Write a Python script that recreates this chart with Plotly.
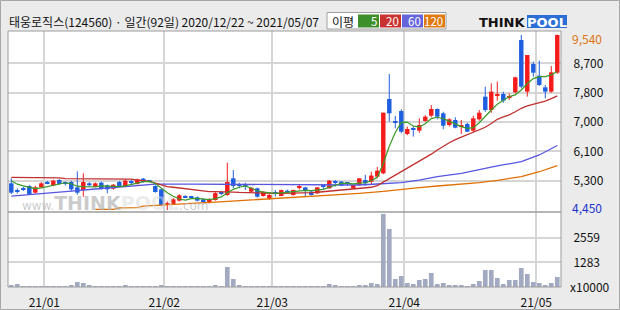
import plotly.graph_objects as go
import pandas as pd

# ---------------- data ----------------
title_text = "태웅로직스(124560) · 일간(92일) 2020/12/22 ~ 2021/05/07"
holidays = ["2020-12-25", "2020-12-31", "2021-01-01", "2021-02-11",
            "2021-02-12", "2021-03-01", "2021-05-05"]
dates = [d for d in pd.bdate_range("2020-12-22", "2021-05-07")
         if d.strftime("%Y-%m-%d") not in holidays]

opens = [5224, 5030, 5080, 5146, 4953, 5108, 5250, 5165, 5320, 5230,
         5262, 5108, 5031, 5224, 5127, 5243, 5166, 5069, 5262, 5146,
         5290, 5204, 5359, 5290, 5146, 5050, 4610, 4624, 4721, 4856,
         4818, 4818, 4760, 4663, 4740, 4953, 4885, 5369, 5175, 5175,
         4982, 5079, 4856, 4789, 4950, 4856, 5011, 4885, 5100, 5108,
         4982, 4934, 5140, 5079, 5250, 5272, 5220, 5079, 5175, 5320,
         5272, 5417, 5514, 7669, 7012, 7321, 6655, 6790, 6751, 7031,
         7186, 7380, 7254, 6915, 7060, 6867, 6945, 6751, 7080, 7737,
         7350, 7766, 7814, 7700, 7863, 9380, 7882, 8684, 8346, 8008,
         7882, 8433]
highs = [5369, 5070, 5120, 5170, 5150, 5260, 5290, 5330, 5350, 5280,
         5300, 5570, 5515, 5260, 5250, 5270, 5190, 5200, 5290, 5340,
         5320, 5360, 5380, 5320, 5170, 5080, 4700, 4800, 4910, 4880,
         4850, 4840, 4780, 4790, 4980, 5010, 5823, 5610, 5240, 5240,
         5100, 5100, 4990, 4930, 5030, 5040, 5040, 5040, 5180, 5120,
         5000, 5110, 5190, 5320, 5320, 5290, 5260, 5180, 5370, 5470,
         5560, 5700, 7273, 8395, 7177, 7370, 6870, 6870, 7110, 7200,
         7495, 7400, 7300, 7110, 7140, 7060, 6980, 7180, 7350, 8027,
         8124, 8172, 7882, 7834, 8317, 9525, 8945, 8752, 8781, 8076,
         8626, 9540]
lows = [4914, 4930, 5000, 4890, 4930, 5090, 5200, 5140, 5180, 5160,
        4990, 4895, 4836, 5140, 5110, 5040, 4934, 5040, 5130, 5110,
        5200, 5190, 5240, 5250, 4950, 4560, 4450, 4600, 4700, 4800,
        4780, 4700, 4660, 4640, 4720, 4880, 4860, 5080, 5080, 5030,
        4970, 4810, 4840, 4740, 4840, 4850, 4950, 4870, 5040, 4840,
        4870, 4920, 5030, 5070, 5130, 5140, 5150, 5060, 5160, 5150,
        5200, 5370, 5490, 7012, 6819, 6674, 6620, 6580, 6690, 7010,
        7140, 7080, 6790, 6870, 6820, 6654, 6710, 6720, 7040, 7300,
        7270, 7621, 7563, 7640, 7834, 7979, 7737, 8317, 8047, 7689,
        7850, 8400]
closes = [4953, 4990, 5040, 4914, 5108, 5224, 5230, 5301, 5204, 5220,
          5050, 4953, 5262, 5166, 5224, 5069, 5050, 5185, 5146, 5301,
          5230, 5340, 5262, 5282, 4972, 4596, 4640, 4760, 4876, 4818,
          4800, 4721, 4682, 4750, 4940, 4934, 5262, 5146, 5165, 5160,
          5098, 4837, 4982, 4885, 4940, 5030, 4953, 5030, 5110, 5011,
          4885, 5108, 5130, 5301, 5240, 5156, 5210, 5175, 5369, 5224,
          5450, 5591, 7273, 7254, 7000, 6722, 6800, 6780, 6915, 7157,
          7380, 7157, 6896, 7080, 6838, 6915, 6722, 7109, 7273, 7350,
          7882, 7795, 7621, 7720, 8298, 8027, 8945, 8433, 8076, 7882,
          8443, 9525]
volumes = [104, 156, 52, 52, 52, 52, 52, 52, 52, 52,
           104, 260, 208, 104, 52, 52, 52, 52, 52, 104,
           52, 52, 52, 52, 52, 104, 52, 52, 52, 52,
           52, 52, 52, 52, 104, 52, 1040, 416, 104, 52,
           52, 52, 52, 52, 52, 52, 52, 52, 52, 52,
           52, 52, 52, 156, 104, 52, 52, 52, 104, 104,
           208, 156, 3800, 3016, 416, 572, 208, 156, 364, 416,
           728, 156, 208, 104, 104, 104, 52, 156, 312, 884,
           884, 468, 156, 364, 364, 988, 676, 260, 208, 104,
           208, 520]  # x10000 shares

ma5 = [5300, 5200, 5150, 5100, 5070, 5090, 5130, 5170, 5210, 5240,
       5210, 5140, 5130, 5120, 5120, 5150, 5140, 5120, 5130, 5150,
       5180, 5230, 5270, 5280, 5220, 5080, 4950, 4850, 4770, 4740,
       4780, 4790, 4780, 4750, 4780, 4830, 4950, 5050, 5110, 5150,
       5080, 5010, 4970, 4950, 4930, 4950, 4970, 4990, 5010, 5020,
       5010, 5020, 5050, 5110, 5170, 5220, 5220, 5210, 5230, 5240,
       5300, 5400, 5800, 6300, 6700, 6990, 7000, 6880, 6860, 6950,
       7100, 7140, 7100, 7020, 6960, 6870, 6820, 6840, 6980, 7180,
       7350, 7520, 7640, 7740, 7790, 7930, 8120, 8260, 8320, 8320,
       8370, 8470]
ma20 = [5398, 5398, 5398, 5398, 5380, 5380, 5380, 5380, 5380, 5360,
        5360, 5360, 5360, 5360, 5345, 5345, 5345, 5345, 5345, 5345,
        5345, 5320, 5310, 5280, 5230, 5180, 5130, 5110, 5090, 5070,
        5050, 5030, 5000, 4985, 4985, 4985, 4985, 4970, 4960, 4955,
        4935, 4935, 4935, 4935, 4935, 4935, 4935, 4935, 4935, 4945,
        4955, 4965, 4980, 4995, 5010, 5025, 5040, 5050, 5060, 5080,
        5110, 5160, 5260, 5370, 5470, 5560, 5660, 5760, 5860, 5960,
        6070, 6190, 6300, 6400, 6490, 6560, 6620, 6690, 6760, 6850,
        6960, 7080, 7150, 7210, 7300, 7400, 7470, 7510, 7550, 7610,
        7680, 7760]
ma60_idx = [0, 3, 6, 10, 14, 18, 22, 24, 30, 36, 42, 48, 54, 58, 61, 65,
            68, 71, 75, 78, 81, 85, 88, 91]
ma60_val = [4850, 4900, 4940, 5000, 5060, 5120, 5180, 5200, 5200, 5195,
            5190, 5185, 5180, 5176, 5205, 5243, 5320, 5417, 5514, 5630,
            5727, 5852, 6046, 6320]
ma120_idx = [14, 17, 18, 21, 22, 26, 30, 34, 38, 42, 46, 50, 54, 58, 62,
             65, 68, 71, 75, 78, 81, 85, 88, 91]
ma120_val = [4470, 4470, 4515, 4520, 4565, 4595, 4640, 4680, 4720, 4760,
             4800, 4850, 4900, 4935, 4990, 5050, 5100, 5146, 5195, 5243,
             5310, 5417, 5560, 5740]

month_labels = ["21/01", "21/02", "21/03", "21/04", "21/05"]
price_tick_vals = [8700, 7850, 7000, 6150, 5300]
price_tick_text = ["8,700", "7,800", "7,000", "6,100", "5,300"]
price_max_text, price_min_text = "9,540", "4,450"
vol_tick_vals = [2559, 1283]
vol_tick_text = ["2559", "1283"]
vol_unit = "x10000"
legend_items = [("5", "#3d8f2b"), ("20", "#c83330"), ("60", "#6464dc"), ("120", "#e07a10")]

# ---------------- styling ----------------
W, H = 620, 310
PL, PR, PT, PB, SEP = 8, 561, 31, 287, 212
FONT = "Noto Sans CJK KR, Noto Sans, sans-serif"
UP, DOWN = "#f41c1c", "#1f5fe0"
MA_COL = {"5": "#3a9a25", "20": "#c03030", "60": "#5656e2", "120": "#e07000"}
GRID = "#d5d5d5"
FRAME = "#9c9c9c"


def px(xp):
    return (xp - PL) / (PR - PL)


def py(yp):
    return (PB - yp) / (PB - PT)


n = len(dates)
x = list(range(n))
month_first = [i for i in range(1, n) if dates[i].month != dates[i - 1].month]

body_base = [min(o, c) for o, c in zip(opens, closes)]
body_h = [max(abs(c - o), 30) for o, c in zip(opens, closes)]
body_col = [UP if c >= o else DOWN for o, c in zip(opens, closes)]

fig = go.Figure()

# candle bodies
fig.add_trace(go.Bar(x=x, y=body_h, base=body_base, marker_color=body_col,
                     marker_line_width=0, width=0.74, xaxis="x", yaxis="y",
                     hoverinfo="skip"))
# wicks
for col, up in ((UP, True), (DOWN, False)):
    wx, wy = [], []
    for i in range(n):
        if (closes[i] >= opens[i]) == up:
            wx += [x[i], x[i], None]
            wy += [lows[i], highs[i], None]
    fig.add_trace(go.Scatter(x=wx, y=wy, mode="lines", line=dict(color=col, width=1),
                             xaxis="x", yaxis="y", hoverinfo="skip"))

# moving averages
fig.add_trace(go.Scatter(x=ma120_idx, y=ma120_val, mode="lines",
                         line=dict(color=MA_COL["120"], width=1.3), yaxis="y"))
fig.add_trace(go.Scatter(x=ma60_idx, y=ma60_val, mode="lines",
                         line=dict(color=MA_COL["60"], width=1.3), yaxis="y"))
fig.add_trace(go.Scatter(x=x, y=ma20, mode="lines",
                         line=dict(color=MA_COL["20"], width=1.3), yaxis="y"))
fig.add_trace(go.Scatter(x=x, y=ma5, mode="lines",
                         line=dict(color=MA_COL["5"], width=1.2), yaxis="y"))

# volume
fig.add_trace(go.Bar(x=x, y=volumes, marker_color="#a2aac2", marker_line_width=0,
                     width=0.78, xaxis="x", yaxis="y2", hoverinfo="skip"))

shapes = [
    dict(type="rect", xref="paper", yref="paper", x0=px(0.5), x1=px(619.5),
         y0=py(309.5), y1=py(0.5), line=dict(color="#a6a6a6", width=1), layer="below"),
    dict(type="rect", xref="paper", yref="paper", x0=0, x1=1, y0=0, y1=1,
         line=dict(color=FRAME, width=1)),
    dict(type="line", xref="paper", yref="paper", x0=0, x1=1, y0=py(SEP), y1=py(SEP),
         line=dict(color=FRAME, width=1.5)),
    # legend box
    dict(type="rect", xref="paper", yref="paper", x0=px(327), x1=px(446),
         y0=py(29), y1=py(12.5), fillcolor="white", line=dict(color="#a0a0a0", width=1)),
]
annotations = [
    dict(text=title_text, xref="paper", yref="paper", x=px(7), y=py(21),
         xanchor="left", yanchor="middle", showarrow=False,
         font=dict(family=FONT, size=12, color="#111")),
    dict(text="이평", xref="paper", yref="paper", x=px(342.5), y=py(21),
         xanchor="center", yanchor="middle", showarrow=False,
         font=dict(family=FONT, size=12, color="#111")),
]
bx = 358
for lab, col in legend_items:
    shapes.append(dict(type="rect", xref="paper", yref="paper", x0=px(bx), x1=px(bx + 21),
                       y0=py(27.5), y1=py(14.5), fillcolor=col, line=dict(width=0)))
    annotations.append(dict(text=lab, xref="paper", yref="paper", x=px(bx + 21), y=py(21),
                            xanchor="right", yanchor="middle", showarrow=False,
                            borderpad=0, xshift=-1,
                            font=dict(family=FONT, size=11.5, color="white")))
    bx += 22

# THINKPOOL logo
shapes.append(dict(type="rect", xref="paper", yref="paper", x0=px(527), x1=px(567),
                   y0=py(28), y1=py(15), fillcolor="#2b6fd6", line=dict(width=0)))
annotations.append(dict(text="<b>THINK</b>", xref="paper", yref="paper", x=px(527), y=py(22),
                        xanchor="right", yanchor="middle", showarrow=False,
                        font=dict(family="DejaVu Sans", size=13, color="#111")))
annotations.append(dict(text="<b>POOL</b>", xref="paper", yref="paper", x=px(547), y=py(22),
                        xanchor="center", yanchor="middle", showarrow=False,
                        font=dict(family="DejaVu Sans", size=13, color="white")))
# watermark
annotations.append(dict(
    text="<span style='font-size:12px'>www.</span><b>THINK</b>"
         "<span style='color:rgba(215,215,215,0.7)'><b>POOL</b></span>"
         "<span style='font-size:12px'>.com</span>",
    xref="paper", yref="paper", x=px(20), y=py(203), xanchor="left", yanchor="middle",
    showarrow=False, font=dict(family="DejaVu Sans", size=19, color="rgba(180,180,180,0.7)")))

# right-axis extreme labels & unit
annotations.append(dict(text=price_max_text, xref="paper", yref="paper", x=1, xshift=9,
                        y=py(38.5), xanchor="left", yanchor="middle", showarrow=False,
                        font=dict(family=FONT, size=12, color="#dd7410")))
annotations.append(dict(text=price_min_text, xref="paper", yref="paper", x=1, xshift=9,
                        y=py(207), xanchor="left", yanchor="middle", showarrow=False,
                        font=dict(family=FONT, size=12, color="#1a33cc")))
annotations.append(dict(text=vol_unit, xref="paper", yref="paper", x=px(568), y=py(286),
                        xanchor="left", yanchor="middle", showarrow=False,
                        font=dict(family=FONT, size=12, color="#111")))

fig.update_layout(
    width=W, height=H, margin=dict(l=PL, r=W - PR, t=PT, b=H - PB),
    paper_bgcolor="#ebebeb", plot_bgcolor="white", showlegend=False,
    barmode="overlay", hovermode=False,
    shapes=shapes, annotations=annotations,
    xaxis=dict(domain=[0, 1], anchor="y2", range=[-0.55, 91.62], automargin=False,
               tickmode="array", tickvals=[m - 0.5 for m in month_first],
               ticktext=month_labels, showgrid=True, gridcolor=GRID, gridwidth=1.5,
               zeroline=False, showline=False, ticks="outside", ticklen=5,
               tickcolor="rgba(0,0,0,0)",
               tickfont=dict(family=FONT, size=12, color="#111")),
    yaxis=dict(domain=[py(SEP), 1], anchor="x", side="right", automargin=False,
               range=[9540 - (SEP - 34.5) * 29, 9540 - (PT - 34.5) * 29],
               tickmode="array", tickvals=price_tick_vals, ticktext=price_tick_text,
               showgrid=True, gridcolor=GRID, gridwidth=1.5, zeroline=False,
               ticks="outside", ticklen=9, tickcolor="rgba(0,0,0,0)",
               tickfont=dict(family=FONT, size=12, color="#111")),
    yaxis2=dict(domain=[0, py(SEP)], anchor="x", side="right", range=[0, 3900],
                automargin=False,
                tickmode="array", tickvals=vol_tick_vals, ticktext=vol_tick_text,
                showgrid=True, gridcolor=GRID, gridwidth=1.5, zeroline=False,
                ticks="outside", ticklen=9, tickcolor="rgba(0,0,0,0)",
                tickfont=dict(family=FONT, size=12, color="#111")),
)

fig.write_html("out.html")
